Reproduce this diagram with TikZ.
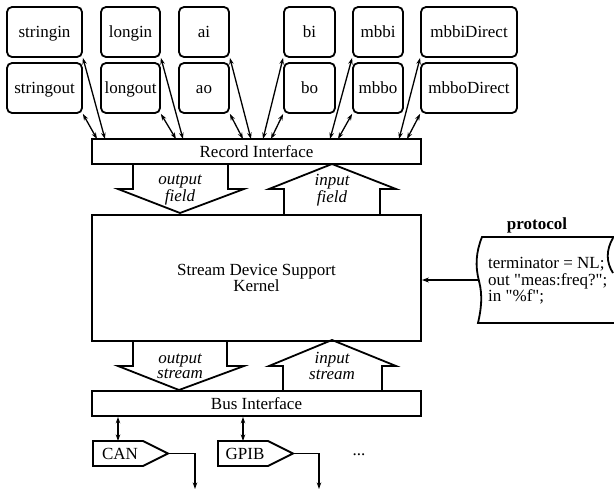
\documentclass[tikz,border=0pt]{standalone}
\usepackage{fontspec}
\setmainfont{Liberation Serif}
\newfontfamily\codefont{Liberation Serif}
\usetikzlibrary{arrows.meta}
\begin{document}
\begin{tikzpicture}[x=1pt,y=-1pt,
  every node/.style={font=\fontsize{17}{16.5}\selectfont, inner sep=0pt},
  rec/.style={draw, line width=1.8pt, rounded corners=5pt, minimum height=50pt, text height=11.5pt, text depth=0pt},
  bar/.style={draw, line width=1.8pt},
  flat/.style={text height=11.5pt, text depth=0pt},
  blockarrow/.style={draw, line width=1.8pt, line join=miter},
  lbl/.style={font=\fontsize{17}{15.5}\selectfont\itshape, align=center},
  dbl/.style={line width=1.3pt, {Stealth[length=6.5pt,width=4.5pt]}-{Stealth[length=6.5pt,width=4.5pt]}},
  single/.style={line width=1.3pt, -{Stealth[length=6.5pt,width=4.5pt]}},
  driver/.style={line width=1.8pt, line join=miter}]
\useasboundingbox (0,0) rectangle (614,490);

% record types
\node[rec, minimum width=75pt] (stringin)  at (44.5,32) {stringin};
\node[rec, minimum width=75pt] (stringout) at (44.5,88) {stringout};
\node[rec, minimum width=59pt] (longin)    at (130.5,32) {longin};
\node[rec, minimum width=59pt] (longout)   at (130.5,88) {longout};
\node[rec, minimum width=50pt] (ai)        at (204,32) {ai};
\node[rec, minimum width=50pt] (ao)        at (204,88) {ao};
\node[rec, minimum width=51pt] (bi)        at (309.5,32) {bi};
\node[rec, minimum width=51pt] (bo)        at (309.5,88) {bo};
\node[rec, minimum width=50pt] (mbbi)      at (378,32) {mbbi};
\node[rec, minimum width=50pt] (mbbo)      at (378,88) {mbbo};
\node[rec, minimum width=96pt] (mbbiD)     at (469,32) {mbbiDirect};
\node[rec, minimum width=96pt] (mbboD)     at (469,88) {mbboDirect};

% interfaces and kernel
\node[bar, flat, minimum width=329pt, minimum height=25pt] (recif) at (256.5,151.5) {Record Interface};
\node[bar, minimum width=329pt, minimum height=126pt, align=center] (kernel) at (256.5,278) {Stream Device Support\\Kernel};
\node[bar, flat, minimum width=329pt, minimum height=25pt] (busif) at (256.5,403.5) {Bus Interface};

% attachment points on the record interface
\coordinate (p1) at (105,139);
\coordinate (p2) at (97,139);
\coordinate (p3) at (183,139);
\coordinate (p4) at (176,139);
\coordinate (p5) at (251,139);
\coordinate (p6) at (243,139);
\coordinate (p7) at (263,139);
\coordinate (p8) at (271,139);
\coordinate (p9) at (330,139);
\coordinate (p10) at (338,139);
\coordinate (p11) at (399,139);
\coordinate (p12) at (407,139);

\draw[dbl] (stringin.south east) -- (p1);
\draw[dbl] (stringout.south east) -- (p2);
\draw[dbl] (longin.south east) -- (p3);
\draw[dbl] (longout.south east) -- (p4);
\draw[dbl] (ai.south east) -- (p5);
\draw[dbl] (ao.south east) -- (p6);
\draw[dbl] (bi.south west) -- (p7);
\draw[dbl] (bo.south west) -- (p8);
\draw[dbl] (mbbi.south west) -- (p9);
\draw[dbl] (mbbo.south west) -- (p10);
\draw[dbl] (mbbiD.south west) -- (p11);
\draw[dbl] (mbboD.south west) -- (p12);

% field transfer arrows
\draw[blockarrow] (133,164) -- (133,189) -- (118,189) -- (180,213) -- (244,189) -- (228,189) -- (228,164);
\draw[blockarrow] (284,214) -- (284,189) -- (269,189) -- (332,164) -- (396,189) -- (380,189) -- (380,214);
\node[lbl] (outfield) at (180,190) {output\\field};
\node[lbl] (infield)  at (332,190) {input\\field};

% stream transfer arrows
\draw[blockarrow] (133,340) -- (133,366) -- (118,366) -- (179,390) -- (244,366) -- (227,366) -- (227,340);
\draw[blockarrow] (283,391) -- (283,366) -- (269,366) -- (332,340) -- (396,366) -- (382,366) -- (382,391);
\node[lbl] (outstream) at (180,366.5) {output\\stream};
\node[lbl] (instream)  at (332,366) {input\\stream};

% bus drivers
\node[flat, minimum width=50pt, minimum height=25pt, xshift=2pt] (can) at (118,453.5) {CAN};
\coordinate (cantip) at (168,453.5);
\draw[driver] (93,441) -- (143,441) -- (cantip) -- (143,466) -- (93,466) -- cycle;

\node[flat, minimum width=50pt, minimum height=25pt, xshift=2pt] (gpib) at (243,453.5) {GPIB};
\coordinate (gpibtip) at (293,453.5);
\draw[driver] (218,441) -- (268,441) -- (gpibtip) -- (268,466) -- (218,466) -- cycle;

\node (more) at (359,455) {...};

\coordinate (cantop) at (118,441);
\coordinate (gpibtop) at (243,441);
\draw[dbl] (cantop) -- (cantop |- busif.south);
\draw[dbl] (gpibtop) -- (gpibtop |- busif.south);

\coordinate (canout) at (195,489);
\coordinate (gpibout) at (319,489);
\draw[single] (cantip) -| (canout);
\draw[single] (gpibtip) -| (gpibout);

% protocol file
\node[font=\fontsize{17}{16.5}\selectfont\bfseries] (prothead) at (537,225) {protocol};
\draw[line width=1.8pt]
  (616,237) -- (482,237)
  .. controls (476,252) and (475,266) .. (479,281)
  .. controls (483,296) and (481,310) .. (478,323)
  -- (616,323);
\draw[line width=1.8pt] (613,238) .. controls (606,250) and (606,262) .. (613,273);
\node[anchor=west, align=left, font=\codefont\fontsize{17}{16.5}\selectfont] (proto) at (488,281) {terminator = NL;\\out "meas:freq?";\\in "\%f";};
\coordinate (protedge) at (478,280);
\draw[line width=1.8pt, -{Stealth[length=7pt,width=5pt]}] (protedge) -- (kernel.east |- protedge);
\end{tikzpicture}
\end{document}
